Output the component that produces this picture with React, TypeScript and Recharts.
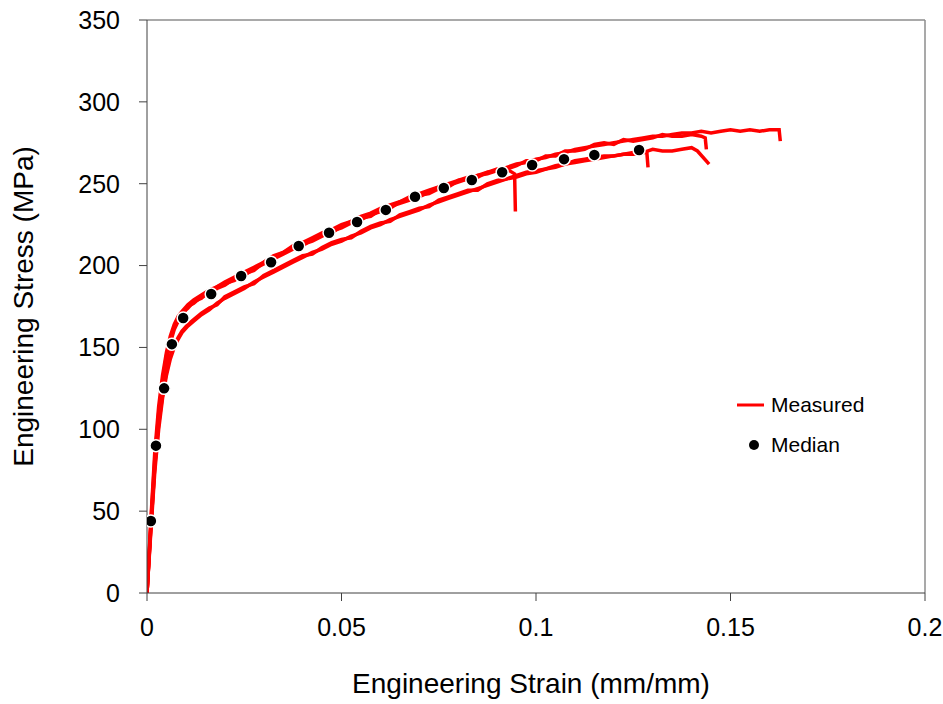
import React from 'react';
import {
  ComposedChart,
  Line,
  Scatter,
  XAxis,
  YAxis,
  Legend,
  ReferenceLine,
} from 'recharts';

const FONT = '"Liberation Sans", Arial, sans-serif';

// shared strain grid (mm/mm) used by the measured specimens
const strainGrid = [
  0, 0.001, 0.002, 0.003, 0.004, 0.005, 0.006, 0.007, 0.008, 0.009, 0.0105, 0.012, 0.014, 0.016,
  0.018, 0.02, 0.0225, 0.025, 0.0275, 0.03, 0.0325, 0.035, 0.0375, 0.04, 0.0425, 0.045, 0.0475,
  0.05, 0.0525, 0.055, 0.0575, 0.06, 0.0625, 0.065, 0.0675, 0.07, 0.0725, 0.075, 0.0775, 0.08,
  0.0825, 0.085, 0.0875, 0.09, 0.0925, 0.095, 0.0975, 0.1, 0.1025, 0.105, 0.1075, 0.11, 0.1125,
  0.115, 0.1175, 0.12, 0.1225, 0.125, 0.1275, 0.13, 0.1325, 0.135, 0.1375, 0.14, 0.1425, 0.145,
  0.1475, 0.15, 0.1525, 0.155, 0.1575, 0.16, 0.1625,
];

// specimen 1: upper band, longest
const stressA = [
  0, 40, 78, 106, 127, 142, 153, 161, 166, 170, 175, 177, 181, 183, 186, 188, 192, 194, 198, 201,
  204, 207, 210, 213, 215, 218, 221, 223, 226, 228, 231, 233, 236, 238, 240, 243, 244, 247, 249,
  251, 253, 255, 256, 258, 260, 262, 263, 265, 266, 268, 269, 271, 272, 273, 274, 275, 276, 277,
  278, 279, 279, 280, 281, 281, 282, 281, 282, 283, 282, 283, 282, 283, 283,
];
const endA = [[0.1628, 276]];

// specimen 2: upper band, breaks at 0.1435
const stressB = [
  0, 43, 82, 110, 130, 145, 155, 162, 167, 171, 174, 178, 180, 184, 187, 189, 191, 195, 197, 202,
  205, 208, 211, 212, 216, 219, 220, 224, 227, 229, 230, 234, 235, 239, 241, 242, 245, 248, 248,
  252, 254, 254, 257, 259, 259, 261, 264, 264, 267, 267, 270, 270, 271, 274, 275, 274, 277, 276,
  277, 278, 280, 279, 279, 280, 279,
];
const endB = [[0.1435, 278], [0.1438, 271]];

// specimen 3: upper band, breaks at 0.0945
const stressC = [
  0, 45, 86, 114, 133, 147, 157, 164, 169, 172, 176, 179, 182, 185, 187, 190, 193, 196, 199, 202,
  206, 208, 212, 214, 217, 220, 222, 225, 227, 230, 232, 235, 237, 239, 242, 244, 246, 248, 250,
  252, 253, 255, 257, 258, 259,
];
const endC = [[0.0945, 256], [0.0947, 233]];

// specimen 4: lower band, breaks at 0.1288
const stressD = [
  0, 38, 74, 100, 119, 133, 143, 150, 155, 159, 163, 166, 170, 173, 177, 180, 183, 186, 190, 193,
  196, 199, 202, 205, 208, 210, 213, 215, 218, 220, 223, 225, 228, 230, 232, 234, 237, 239, 241,
  243, 245, 247, 249, 251, 253, 254, 256, 257, 259, 260, 262, 263, 264, 265, 266, 267, 268, 268,
  269,
];
const endD = [[0.1285, 269], [0.1288, 260]];

// specimen 5: lower band, breaks at 0.1445
const stressE = [
  0, 41, 77, 103, 121, 135, 145, 151, 156, 160, 164, 167, 171, 174, 176, 181, 184, 187, 189, 194,
  197, 200, 203, 206, 207, 211, 214, 216, 217, 221, 224, 226, 227, 231, 233, 235, 236, 240, 242,
  244, 246, 246, 250, 252, 253, 255, 257, 258, 259, 261, 262, 264, 265, 266, 267, 267, 268, 269,
  269, 271, 270, 270, 271, 272,
];
const endE = [[0.1415, 270], [0.1445, 262]];

// median curve points
const medianStrain = [
  0.001, 0.0023, 0.0044, 0.0064, 0.0093, 0.0165, 0.0242, 0.0319, 0.039, 0.0468, 0.054, 0.0614,
  0.0689, 0.0763, 0.0835, 0.0913, 0.099, 0.1072, 0.115, 0.1265,
];
const medianStress = [
  44, 90, 125, 152, 168, 182.6, 193.6, 202, 212, 220, 226.6, 234, 242, 247.4, 252.3, 257, 261.4,
  265, 267.6, 270.6,
];

const xTicks = [0, 0.05, 0.1, 0.15, 0.2];
const yTicks = [0, 50, 100, 150, 200, 250, 300, 350];

function toSeries(stress: number[], tail: number[][]) {
  const pts = stress.map((y, i) => ({ x: strainGrid[i], y }));
  return pts.concat(tail.map(([x, y]) => ({ x, y })));
}

const specimens = [
  toSeries(stressA, endA),
  toSeries(stressB, endB),
  toSeries(stressC, endC),
  toSeries(stressD, endD),
  toSeries(stressE, endE),
];

const medianData = medianStrain.map((x, i) => ({ x, y: medianStress[i] }));

const YTitle = ({ viewBox }: any) => {
  const cx = 33;
  const cy = viewBox.y + viewBox.height / 2;
  return (
    <text
      x={cx}
      y={cy}
      transform={`rotate(-90 ${cx} ${cy})`}
      textAnchor="middle"
      fontFamily={FONT}
      fontSize={28}
      fill="#000"
    >
      Engineering Stress (MPa)
    </text>
  );
};

const XTitle = ({ viewBox }: any) => (
  <text
    x={viewBox.x + viewBox.width / 2 - 5}
    y={693}
    textAnchor="middle"
    fontFamily={FONT}
    fontSize={28}
    fill="#000"
  >
    Engineering Strain (mm/mm)
  </text>
);

const MedianDot = (props: any) => (
  <circle cx={props.cx} cy={props.cy} r={6} fill="#000" stroke="#fff" strokeWidth={1.5} />
);

const LegendBox = () => (
  <div style={{ fontFamily: FONT, fontSize: 21, color: '#000' }}>
    <div style={{ display: 'flex', alignItems: 'center', height: 30 }}>
      <svg width={30} height={10}>
        <line x1={0} y1={5} x2={27} y2={5} stroke="#ff0000" strokeWidth={3} />
      </svg>
      <span style={{ marginLeft: 4 }}>Measured</span>
    </div>
    <div style={{ display: 'flex', alignItems: 'center', height: 30, marginTop: 10 }}>
      <svg width={30} height={12}>
        <circle cx={17} cy={6} r={5} fill="#000" />
      </svg>
      <span style={{ marginLeft: 4 }}>Median</span>
    </div>
  </div>
);

export default function App() {
  return (
    <div style={{ position: 'absolute', left: 0, top: 0, background: '#fff' }}>
      <ComposedChart width={943} height={704} margin={{ top: 20, right: 18, left: 0, bottom: 0 }}>
        <XAxis
          type="number"
          dataKey="x"
          domain={[0, 0.2]}
          ticks={xTicks}
          height={111}
          tickSize={8}
          tickMargin={17}
          stroke="#404040"
          tick={{ fill: '#000', fontSize: 25, fontFamily: FONT }}
          label={<XTitle />}
          allowDataOverflow
        />
        <YAxis
          type="number"
          dataKey="y"
          domain={[0, 350]}
          ticks={yTicks}
          width={147}
          tickSize={8}
          tickMargin={19}
          stroke="#404040"
          tick={{ fill: '#000', fontSize: 25, fontFamily: FONT }}
          label={<YTitle />}
          allowDataOverflow
        />
        <ReferenceLine y={350} stroke="#8c8c8c" strokeWidth={1.5} />
        <ReferenceLine x={0.2} stroke="#8c8c8c" strokeWidth={1.5} />
        {specimens.map((d, i) => (
          <Line
            key={i}
            data={d}
            dataKey="y"
            type="linear"
            stroke="#ff0000"
            strokeWidth={3.5}
            dot={false}
            activeDot={false}
            isAnimationActive={false}
            legendType="none"
          />
        ))}
        <Scatter
          data={medianData}
          dataKey="y"
          shape={<MedianDot />}
          isAnimationActive={false}
          legendType="none"
        />
        <Legend
          layout="vertical"
          align="center"
          verticalAlign="middle"
          content={<LegendBox />}
          wrapperStyle={{ left: 737, top: 390, width: 180 }}
        />
      </ComposedChart>
    </div>
  );
}
